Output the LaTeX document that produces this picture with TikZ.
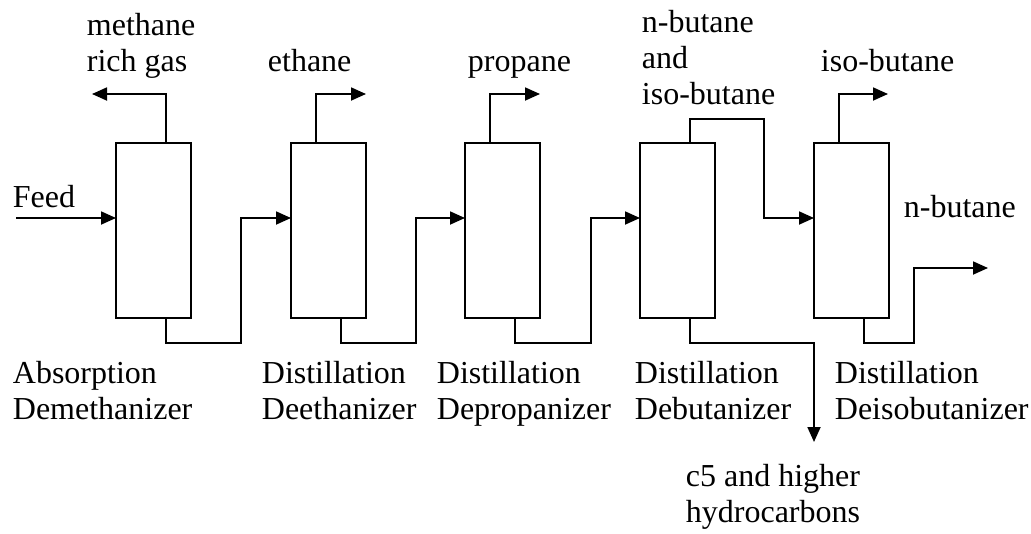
\documentclass[tikz,border=0pt]{standalone}
\usepackage{fontspec}
\setmainfont{Liberation Serif}
\usetikzlibrary{arrows.meta,calc}
\begin{document}
\begin{tikzpicture}[x=1pt,y=-1pt,line width=1.8pt,
  column/.style={draw,minimum width=75pt,minimum height=175pt,inner sep=0pt,outer sep=0pt,anchor=north west},
  lbl/.style={font=\fontsize{32}{36}\selectfont,align=left,inner sep=0pt,anchor=base west},
  flow/.style={-{Triangle[length=15pt,width=13pt]}}]
\path[use as bounding box] (0,0) rectangle (1031,533);
% columns
\node[column] (c1) at (116,143) {};
\node[column] (c2) at (291,143) {};
\node[column] (c3) at (465,143) {};
\node[column] (c4) at (640,143) {};
\node[column] (c5) at (814,143) {};
% labels (anchor = baseline of last line)
\node[lbl] (lmeth) at (86,71) {methane\\rich gas};
\node[lbl] (leth) at (267,71) {ethane};
\node[lbl] (lprop) at (467,71) {propane};
\node[lbl] (lnb) at (641,104) {n-butane\\and\\iso-butane};
\node[lbl] (liso) at (820,71) {iso-butane};
\node[lbl] (lfeed) at (12,207) {Feed};
\node[lbl] (lnbut) at (903,217) {n-butane};
\node[lbl] (n1) at (12,419) {Absorption\\Demethanizer};
\node[lbl] (n2) at (261,419) {Distillation\\Deethanizer};
\node[lbl] (n3) at (436,419) {Distillation\\Depropanizer};
\node[lbl] (n4) at (634,419) {Distillation\\Debutanizer};
\node[lbl] (n5) at (834,419) {Distillation\\Deisobutanizer};
\node[lbl] (lc5) at (685,522) {c5 and higher\\hydrocarbons};
% coordinates
\coordinate (feedin) at (16,218);
\coordinate (in2) at ($(c2.north west)+(0,75)$);
\coordinate (in3) at ($(c3.north west)+(0,75)$);
\coordinate (in4) at ($(c4.north west)+(0,75)$);
\coordinate (in5) at ($(c5.north west)+(0,75)$);
\coordinate (m1) at (92,94);
\coordinate (e2) at (366,94);
\coordinate (p3) at (540,94);
\coordinate (k4) at (764,119);
\coordinate (i5) at (888,94);
\coordinate (j1) at (241,343);
\coordinate (j2) at (416,343);
\coordinate (j3) at (591,343);
\coordinate (j4) at (814,343);
\coordinate (out4) at (814,442);
\coordinate (j5) at (914,343);
\coordinate (out5) at (988,268);
% connectors
\draw[flow] (feedin) -- (feedin -| c1.west);
\draw[flow] ($(c1.north west)+(50,0)$) |- (m1);
\draw[flow] ($(c2.north west)+(25,0)$) |- (e2);
\draw[flow] ($(c3.north west)+(25,0)$) |- (p3);
\draw[flow] ($(c4.north west)+(50,0)$) |- (k4) |- (in5);
\draw[flow] ($(c5.north west)+(25,0)$) |- (i5);
\draw[flow] ($(c1.south west)+(50,0)$) |- (j1) |- (in2);
\draw[flow] ($(c2.south west)+(50,0)$) |- (j2) |- (in3);
\draw[flow] ($(c3.south west)+(50,0)$) |- (j3) |- (in4);
\draw[flow] ($(c4.south west)+(50,0)$) |- (j4) -- (out4);
\draw[flow] ($(c5.south west)+(50,0)$) |- (j5) |- (out5);
\end{tikzpicture}
\end{document}
